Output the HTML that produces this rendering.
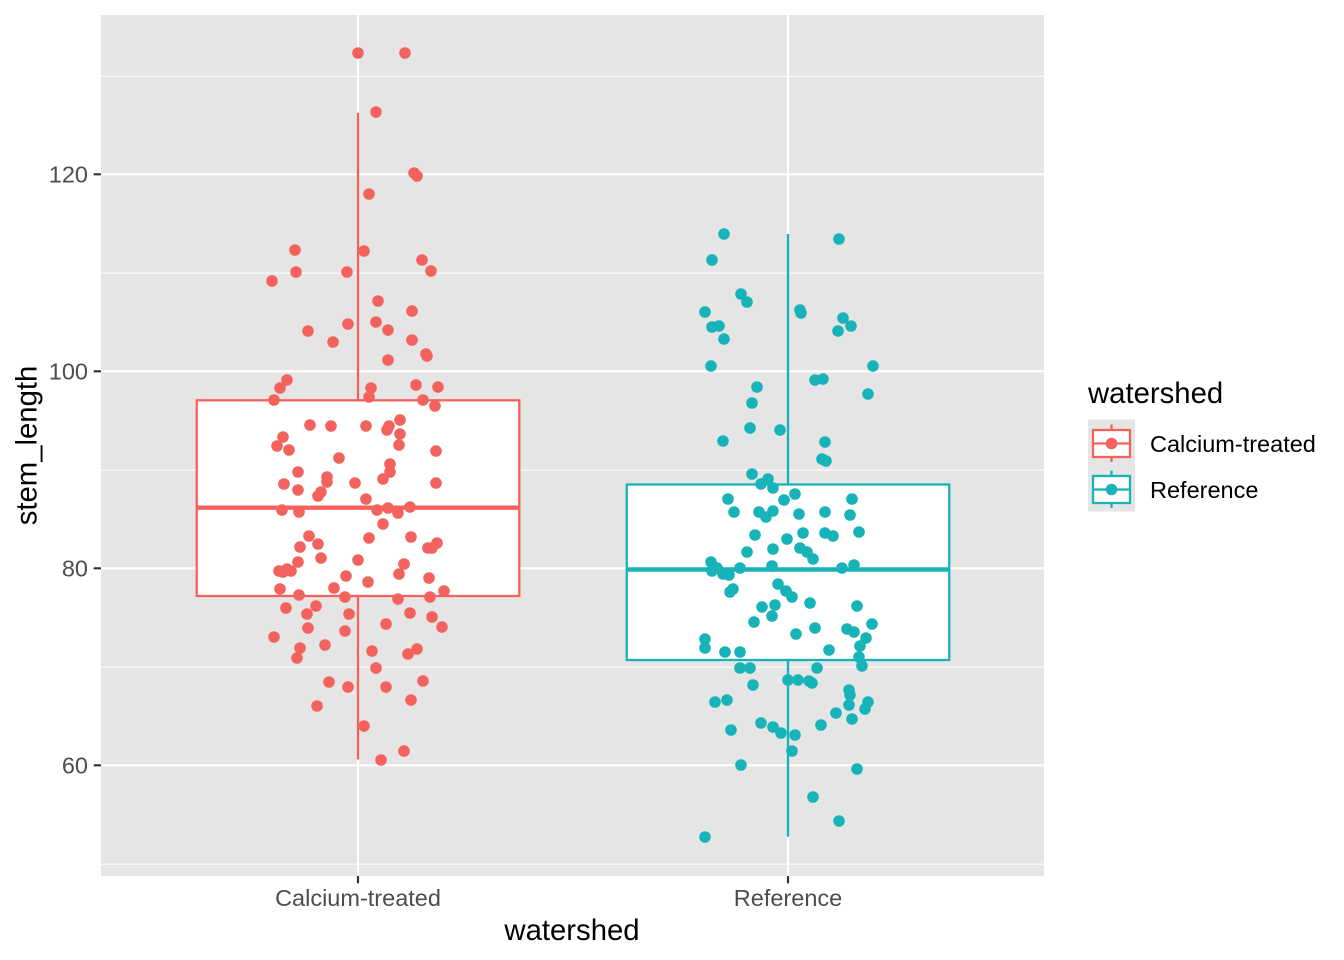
<!DOCTYPE html>
<html><head><meta charset="utf-8"><style>
html,body{margin:0;padding:0;background:#fff;}
svg{display:block;}
text{font-family:"Liberation Sans",Arial,sans-serif;}
</style></head><body>
<svg width="1344" height="960" viewBox="0 0 1344 960" xmlns="http://www.w3.org/2000/svg">
<rect x="0" y="0" width="1344" height="960" fill="#fff"/>
<!-- panel -->
<rect x="101" y="15" width="943" height="861" fill="#E5E5E5"/>
<!-- minor gridlines -->
<g stroke="#fff" stroke-width="1.07">
<line x1="101" x2="1044" y1="76.4" y2="76.4"/>
<line x1="101" x2="1044" y1="273.1" y2="273.1"/>
<line x1="101" x2="1044" y1="470.1" y2="470.1"/>
<line x1="101" x2="1044" y1="667.1" y2="667.1"/>
<line x1="101" x2="1044" y1="864.1" y2="864.1"/>
</g>
<!-- major gridlines -->
<g stroke="#fff" stroke-width="2.13">
<line x1="101" x2="1044" y1="174.3" y2="174.3"/>
<line x1="101" x2="1044" y1="371.3" y2="371.3"/>
<line x1="101" x2="1044" y1="568.3" y2="568.3"/>
<line x1="101" x2="1044" y1="765.3" y2="765.3"/>
<line x1="358" x2="358" y1="15" y2="876"/>
<line x1="788" x2="788" y1="15" y2="876"/>
</g>
<!-- boxplots -->
<g stroke="#F4625D" stroke-width="2.3" fill="#fff">
<line x1="358" x2="358" y1="112.7" y2="400.3"/>
<line x1="358" x2="358" y1="596" y2="759.5"/>
<rect x="196.75" y="400.3" width="322.5" height="195.7"/>
<line x1="196.75" x2="519.25" y1="507.7" y2="507.7" stroke-width="4.4"/>
</g>
<g stroke="#17B3B8" stroke-width="2.3" fill="#fff">
<line x1="788" x2="788" y1="234" y2="484.5"/>
<line x1="788" x2="788" y1="660" y2="836.7"/>
<rect x="626.75" y="484.5" width="322.5" height="175.5"/>
<line x1="626.75" x2="949.25" y1="569.5" y2="569.5" stroke-width="4.4"/>
</g>
<!-- points calcium -->
<g fill="#F4625D">
<circle cx="358" cy="53" r="5.8"/><circle cx="405" cy="53" r="5.8"/><circle cx="376" cy="112" r="5.8"/><circle cx="414" cy="173" r="5.8"/><circle cx="417" cy="176" r="5.8"/><circle cx="369" cy="194" r="5.8"/><circle cx="295" cy="250" r="5.8"/><circle cx="364" cy="251" r="5.8"/><circle cx="422" cy="260" r="5.8"/><circle cx="296" cy="272" r="5.8"/><circle cx="347" cy="272" r="5.8"/><circle cx="431" cy="271" r="5.8"/><circle cx="272" cy="281" r="5.8"/><circle cx="378" cy="301" r="5.8"/><circle cx="412" cy="311" r="5.8"/><circle cx="308" cy="331" r="5.8"/><circle cx="348" cy="324" r="5.8"/><circle cx="376" cy="322" r="5.8"/><circle cx="388" cy="330" r="5.8"/><circle cx="333" cy="342" r="5.8"/><circle cx="412" cy="340" r="5.8"/><circle cx="426" cy="354" r="5.8"/><circle cx="427" cy="356" r="5.8"/><circle cx="388" cy="360" r="5.8"/><circle cx="287" cy="380" r="5.8"/><circle cx="280" cy="388" r="5.8"/><circle cx="274" cy="400" r="5.8"/><circle cx="371" cy="388" r="5.8"/><circle cx="369" cy="397" r="5.8"/><circle cx="416" cy="385" r="5.8"/><circle cx="438" cy="387" r="5.8"/><circle cx="423" cy="400" r="5.8"/><circle cx="435" cy="406" r="5.8"/><circle cx="310" cy="425" r="5.8"/><circle cx="331" cy="426" r="5.8"/><circle cx="366" cy="426" r="5.8"/><circle cx="400" cy="420" r="5.8"/><circle cx="389" cy="426" r="5.8"/><circle cx="387" cy="430" r="5.8"/><circle cx="400" cy="434" r="5.8"/><circle cx="399" cy="445" r="5.8"/><circle cx="283" cy="437" r="5.8"/><circle cx="277" cy="446" r="5.8"/><circle cx="289" cy="450" r="5.8"/><circle cx="436" cy="451" r="5.8"/><circle cx="339" cy="458" r="5.8"/><circle cx="298" cy="472" r="5.8"/><circle cx="390" cy="464" r="5.8"/><circle cx="390" cy="472" r="5.8"/><circle cx="383" cy="479" r="5.8"/><circle cx="284" cy="484" r="5.8"/><circle cx="298" cy="490" r="5.8"/><circle cx="327" cy="477" r="5.8"/><circle cx="327" cy="482" r="5.8"/><circle cx="355" cy="483" r="5.8"/><circle cx="436" cy="483" r="5.8"/><circle cx="321" cy="492" r="5.8"/><circle cx="318" cy="496" r="5.8"/><circle cx="366" cy="499" r="5.8"/><circle cx="282" cy="510" r="5.8"/><circle cx="299" cy="512" r="5.8"/><circle cx="377" cy="510" r="5.8"/><circle cx="388" cy="508" r="5.8"/><circle cx="398" cy="513" r="5.8"/><circle cx="410" cy="507" r="5.8"/><circle cx="383" cy="524" r="5.8"/><circle cx="309" cy="536" r="5.8"/><circle cx="369" cy="538" r="5.8"/><circle cx="411" cy="537" r="5.8"/><circle cx="300" cy="547" r="5.8"/><circle cx="318" cy="544" r="5.8"/><circle cx="437" cy="543" r="5.8"/><circle cx="428" cy="548" r="5.8"/><circle cx="432" cy="548" r="5.8"/><circle cx="298" cy="562" r="5.8"/><circle cx="321" cy="558" r="5.8"/><circle cx="358" cy="560" r="5.8"/><circle cx="404" cy="564" r="5.8"/><circle cx="399" cy="574" r="5.8"/><circle cx="279" cy="571" r="5.8"/><circle cx="287" cy="569" r="5.8"/><circle cx="291" cy="571" r="5.8"/><circle cx="283" cy="572" r="5.8"/><circle cx="346" cy="576" r="5.8"/><circle cx="368" cy="582" r="5.8"/><circle cx="429" cy="578" r="5.8"/><circle cx="280" cy="589" r="5.8"/><circle cx="299" cy="595" r="5.8"/><circle cx="334" cy="588" r="5.8"/><circle cx="345" cy="597" r="5.8"/><circle cx="398" cy="599" r="5.8"/><circle cx="430" cy="597" r="5.8"/><circle cx="444" cy="591" r="5.8"/><circle cx="286" cy="608" r="5.8"/><circle cx="307" cy="614" r="5.8"/><circle cx="316" cy="606" r="5.8"/><circle cx="349" cy="614" r="5.8"/><circle cx="410" cy="613" r="5.8"/><circle cx="432" cy="617" r="5.8"/><circle cx="308" cy="628" r="5.8"/><circle cx="345" cy="631" r="5.8"/><circle cx="386" cy="624" r="5.8"/><circle cx="442" cy="627" r="5.8"/><circle cx="274" cy="637" r="5.8"/><circle cx="300" cy="648" r="5.8"/><circle cx="297" cy="658" r="5.8"/><circle cx="325" cy="645" r="5.8"/><circle cx="372" cy="651" r="5.8"/><circle cx="408" cy="654" r="5.8"/><circle cx="417" cy="649" r="5.8"/><circle cx="376" cy="668" r="5.8"/><circle cx="329" cy="682" r="5.8"/><circle cx="348" cy="687" r="5.8"/><circle cx="386" cy="687" r="5.8"/><circle cx="423" cy="681" r="5.8"/><circle cx="411" cy="700" r="5.8"/><circle cx="317" cy="706" r="5.8"/><circle cx="364" cy="726" r="5.8"/><circle cx="404" cy="751" r="5.8"/><circle cx="381" cy="760" r="5.8"/>
</g>
<!-- points reference -->
<g fill="#17B3B8">
<circle cx="724" cy="234" r="5.8"/><circle cx="839" cy="239" r="5.8"/><circle cx="712" cy="260" r="5.8"/><circle cx="741" cy="294" r="5.8"/><circle cx="747" cy="302" r="5.8"/><circle cx="705" cy="312" r="5.8"/><circle cx="800" cy="310" r="5.8"/><circle cx="801" cy="313" r="5.8"/><circle cx="843" cy="318" r="5.8"/><circle cx="851" cy="326" r="5.8"/><circle cx="838" cy="331" r="5.8"/><circle cx="712" cy="327" r="5.8"/><circle cx="719" cy="326" r="5.8"/><circle cx="724" cy="339" r="5.8"/><circle cx="711" cy="366" r="5.8"/><circle cx="873" cy="366" r="5.8"/><circle cx="815" cy="380" r="5.8"/><circle cx="823" cy="379" r="5.8"/><circle cx="868" cy="394" r="5.8"/><circle cx="757" cy="387" r="5.8"/><circle cx="752" cy="403" r="5.8"/><circle cx="750" cy="428" r="5.8"/><circle cx="780" cy="430" r="5.8"/><circle cx="723" cy="441" r="5.8"/><circle cx="825" cy="442" r="5.8"/><circle cx="822" cy="459" r="5.8"/><circle cx="826" cy="461" r="5.8"/><circle cx="752" cy="474" r="5.8"/><circle cx="761" cy="484" r="5.8"/><circle cx="768" cy="479" r="5.8"/><circle cx="773" cy="488" r="5.8"/><circle cx="795" cy="494" r="5.8"/><circle cx="784" cy="500" r="5.8"/><circle cx="728" cy="499" r="5.8"/><circle cx="734" cy="512" r="5.8"/><circle cx="759" cy="512" r="5.8"/><circle cx="766" cy="517" r="5.8"/><circle cx="773" cy="511" r="5.8"/><circle cx="799" cy="514" r="5.8"/><circle cx="825" cy="512" r="5.8"/><circle cx="852" cy="499" r="5.8"/><circle cx="850" cy="515" r="5.8"/><circle cx="755" cy="535" r="5.8"/><circle cx="773" cy="549" r="5.8"/><circle cx="787" cy="539" r="5.8"/><circle cx="803" cy="533" r="5.8"/><circle cx="825" cy="533" r="5.8"/><circle cx="833" cy="536" r="5.8"/><circle cx="859" cy="532" r="5.8"/><circle cx="747" cy="552" r="5.8"/><circle cx="800" cy="548" r="5.8"/><circle cx="807" cy="552" r="5.8"/><circle cx="813" cy="559" r="5.8"/><circle cx="711" cy="562" r="5.8"/><circle cx="712" cy="571" r="5.8"/><circle cx="717" cy="568" r="5.8"/><circle cx="723" cy="574" r="5.8"/><circle cx="729" cy="575" r="5.8"/><circle cx="740" cy="568" r="5.8"/><circle cx="772" cy="566" r="5.8"/><circle cx="842" cy="568" r="5.8"/><circle cx="854" cy="565" r="5.8"/><circle cx="730" cy="592" r="5.8"/><circle cx="733" cy="589" r="5.8"/><circle cx="778" cy="584" r="5.8"/><circle cx="786" cy="591" r="5.8"/><circle cx="792" cy="597" r="5.8"/><circle cx="762" cy="607" r="5.8"/><circle cx="775" cy="605" r="5.8"/><circle cx="772" cy="616" r="5.8"/><circle cx="810" cy="603" r="5.8"/><circle cx="857" cy="606" r="5.8"/><circle cx="754" cy="622" r="5.8"/><circle cx="796" cy="634" r="5.8"/><circle cx="815" cy="628" r="5.8"/><circle cx="847" cy="629" r="5.8"/><circle cx="854" cy="632" r="5.8"/><circle cx="866" cy="638" r="5.8"/><circle cx="872" cy="624" r="5.8"/><circle cx="860" cy="646" r="5.8"/><circle cx="705" cy="639" r="5.8"/><circle cx="705" cy="648" r="5.8"/><circle cx="725" cy="652" r="5.8"/><circle cx="740" cy="652" r="5.8"/><circle cx="829" cy="650" r="5.8"/><circle cx="859" cy="657" r="5.8"/><circle cx="862" cy="666" r="5.8"/><circle cx="740" cy="668" r="5.8"/><circle cx="750" cy="668" r="5.8"/><circle cx="817" cy="668" r="5.8"/><circle cx="753" cy="685" r="5.8"/><circle cx="788" cy="680" r="5.8"/><circle cx="798" cy="680" r="5.8"/><circle cx="809" cy="681" r="5.8"/><circle cx="812" cy="683" r="5.8"/><circle cx="849" cy="690" r="5.8"/><circle cx="850" cy="695" r="5.8"/><circle cx="849" cy="705" r="5.8"/><circle cx="868" cy="702" r="5.8"/><circle cx="865" cy="709" r="5.8"/><circle cx="836" cy="713" r="5.8"/><circle cx="852" cy="719" r="5.8"/><circle cx="715" cy="702" r="5.8"/><circle cx="727" cy="700" r="5.8"/><circle cx="761" cy="723" r="5.8"/><circle cx="773" cy="727" r="5.8"/><circle cx="781" cy="733" r="5.8"/><circle cx="795" cy="735" r="5.8"/><circle cx="792" cy="751" r="5.8"/><circle cx="821" cy="725" r="5.8"/><circle cx="731" cy="730" r="5.8"/><circle cx="741" cy="765" r="5.8"/><circle cx="857" cy="769" r="5.8"/><circle cx="813" cy="797" r="5.8"/><circle cx="839" cy="821" r="5.8"/><circle cx="705" cy="837" r="5.8"/>
</g>
<!-- axis ticks -->
<g stroke="#333" stroke-width="2.13">
<line x1="93.7" x2="101" y1="174.3" y2="174.3"/>
<line x1="93.7" x2="101" y1="371.3" y2="371.3"/>
<line x1="93.7" x2="101" y1="568.3" y2="568.3"/>
<line x1="93.7" x2="101" y1="765.3" y2="765.3"/>
<line x1="358" x2="358" y1="876" y2="883.3"/>
<line x1="788" x2="788" y1="876" y2="883.3"/>
</g>
<!-- tick labels -->
<g fill="#4D4D4D" font-size="23.5">
<text x="88" y="182.6" text-anchor="end">120</text>
<text x="88" y="379.6" text-anchor="end">100</text>
<text x="88" y="576.6" text-anchor="end">80</text>
<text x="88" y="773.6" text-anchor="end">60</text>
<text x="358" y="906" text-anchor="middle">Calcium-treated</text>
<text x="788" y="906" text-anchor="middle">Reference</text>
</g>
<!-- axis titles -->
<text x="572" y="940" text-anchor="middle" font-size="29.3" fill="#000">watershed</text>
<text transform="translate(36.5,445.5) rotate(-90)" text-anchor="middle" font-size="29.3" fill="#000">stem_length</text>
<!-- legend -->
<text x="1088" y="403" font-size="29.3" fill="#000">watershed</text>
<rect x="1088" y="419.5" width="47" height="92" fill="#E5E5E5"/>
<g stroke="#F4625D" stroke-width="2.3" fill="#fff">
<line x1="1111.5" x2="1111.5" y1="424.5" y2="430"/>
<line x1="1111.5" x2="1111.5" y1="457" y2="462"/>
<rect x="1093" y="430" width="37" height="27"/>
<line x1="1093" x2="1130" y1="443.5" y2="443.5"/>
</g>
<circle cx="1111.5" cy="443.5" r="5.8" fill="#F4625D"/>
<g stroke="#17B3B8" stroke-width="2.3" fill="#fff">
<line x1="1111.5" x2="1111.5" y1="470.5" y2="476"/>
<line x1="1111.5" x2="1111.5" y1="503" y2="508"/>
<rect x="1093" y="476" width="37" height="27"/>
<line x1="1093" x2="1130" y1="489.5" y2="489.5"/>
</g>
<circle cx="1111.5" cy="489.5" r="5.8" fill="#17B3B8"/>
<g font-size="23.5" fill="#000">
<text x="1150" y="452">Calcium-treated</text>
<text x="1150" y="498">Reference</text>
</g>
</svg>
</body></html>
